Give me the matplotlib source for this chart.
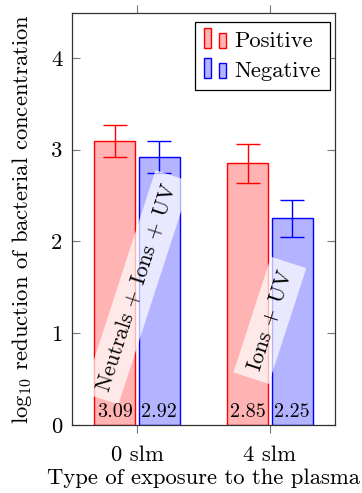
import matplotlib
matplotlib.use("Agg")
import matplotlib.pyplot as plt
import numpy as np
from matplotlib.legend_handler import HandlerBase
from matplotlib.patches import Rectangle

plt.rcParams['font.family'] = 'serif'
plt.rcParams['font.serif'] = ['cmr10', 'DejaVu Serif']
plt.rcParams['mathtext.fontset'] = 'cm'
plt.rcParams['axes.unicode_minus'] = False
plt.rcParams['axes.formatter.use_mathtext'] = True

categories = ['0 slm', '4 slm']
positive = [3.09, 2.85]
positive_err = [0.175, 0.21]
negative = [2.92, 2.25]
negative_err = [0.17, 0.20]
series_names = ['Positive', 'Negative']
annotations = ['Neutrals + Ions + UV', 'Ions + UV']
annot_y = [1.5, 1.14]

FS = 16.3
FS_VAL = 14.5
FS_ANN = 15.8
fig = plt.figure(figsize=(3.62, 4.93), dpi=100)
ax = fig.add_axes([0.199, 0.138, 0.726, 0.836])

x = np.arange(len(categories))
w = 0.31
off = 0.168
red_face = (1, 0.7, 0.7)
blue_face = (0.7, 0.7, 1)

bp = ax.bar(x - off, positive, w, color=red_face, edgecolor='red', linewidth=1.0, label=series_names[0], zorder=2)
bn = ax.bar(x + off, negative, w, color=blue_face, edgecolor='blue', linewidth=1.0, label=series_names[1], zorder=2)
ax.errorbar(x - off, positive, yerr=positive_err, fmt='none', ecolor='red', elinewidth=1.0, capsize=8.3, capthick=1.0, zorder=3)
ax.errorbar(x + off, negative, yerr=negative_err, fmt='none', ecolor='blue', elinewidth=1.0, capsize=8.3, capthick=1.0, zorder=3)

for xi, v in zip(x - off, positive):
    ax.text(xi, 0.09, f'{v:.2f}', ha='center', va='baseline', fontsize=FS_VAL, zorder=5)
for xi, v in zip(x + off, negative):
    ax.text(xi, 0.09, f'{v:.2f}', ha='center', va='baseline', fontsize=FS_VAL, zorder=5)

for xi, t, yy in zip(x, annotations, annot_y):
    ax.text(xi, yy, t, rotation=72, ha='center', va='center', rotation_mode='anchor',
            fontsize=FS_ANN, zorder=4,
            bbox=dict(facecolor='white', alpha=0.7, edgecolor='none', boxstyle='square,pad=0.4'))

ax.set_xlim(-0.489, 1.489)
ax.set_ylim(0, 4.49)
ax.set_xticks(x)
ax.set_xticklabels(categories, fontsize=FS)
ax.set_yticks([0, 1, 2, 3, 4])
ax.set_yticklabels(['0', '1', '2', '3', '4'], fontsize=FS)
ax.tick_params(axis='x', direction='out', top=True, length=6, color='#777777', pad=9)
ax.tick_params(axis='y', direction='in', right=True, length=6, color='#777777', pad=7)
ax.set_xlabel('Type of exposure to the plasma', fontsize=FS, labelpad=2)
ax.set_ylabel(r'log$_{10}$ reduction of bacterial concentration', fontsize=FS, labelpad=12)
for s in ax.spines.values():
    s.set_color('#333333')
    s.set_linewidth(0.9)

class TwoBarHandler(HandlerBase):
    def create_artists(self, legend, orig_handle, xdescent, ydescent, width, height, fontsize, trans):
        fc = orig_handle.get_facecolor()
        ec = orig_handle.get_edgecolor()
        r1 = Rectangle((-xdescent + 0.0 * width, -ydescent - 0.1 * height), 0.28 * width, 1.3 * height,
                       facecolor=fc, edgecolor=ec, linewidth=1.0, transform=trans)
        r2 = Rectangle((-xdescent + 0.6 * width, -ydescent - 0.1 * height), 0.28 * width, 1.0 * height,
                       facecolor=fc, edgecolor=ec, linewidth=1.0, transform=trans)
        return [r1, r2]

h1 = bp.patches[0]
h2 = bn.patches[0]
leg = ax.legend([h1, h2], series_names, loc='upper right', bbox_to_anchor=(0.981, 0.978),
                fontsize=FS, frameon=True, fancybox=False, framealpha=1, edgecolor='black',
                handler_map={Rectangle: TwoBarHandler()}, handlelength=1.1, handletextpad=0.25,
                borderpad=0.4, labelspacing=0.45, borderaxespad=0)
leg.get_frame().set_linewidth(0.9)

fig.savefig('out.png', dpi=100)
